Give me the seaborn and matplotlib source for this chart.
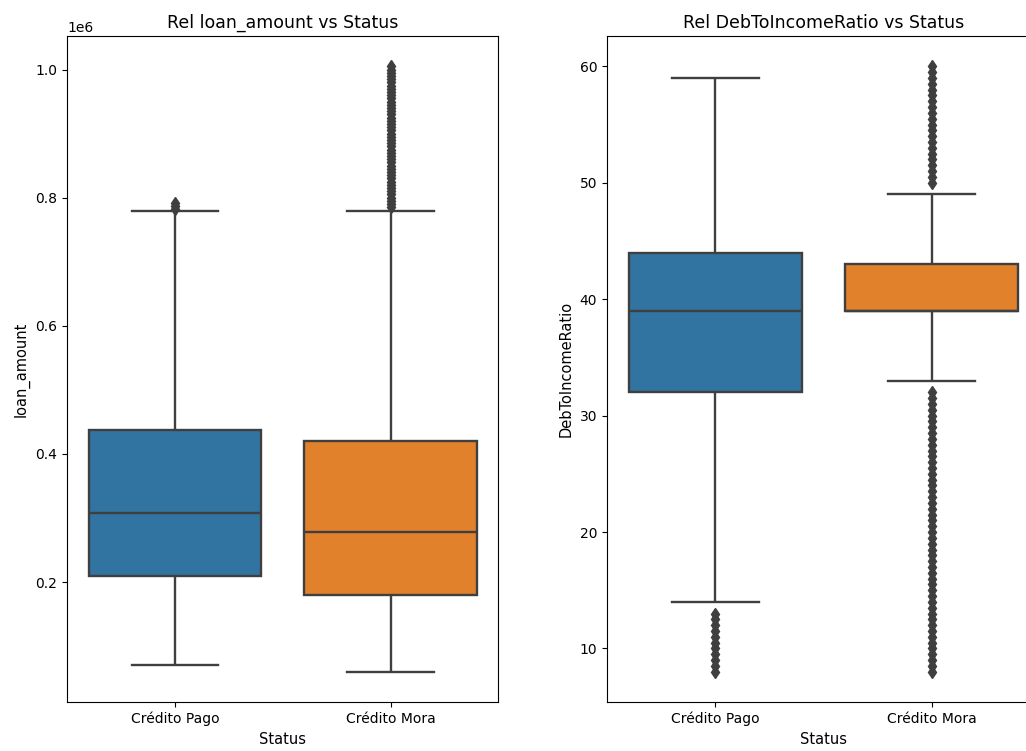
import matplotlib
matplotlib.use("Agg")
import matplotlib.pyplot as plt
import seaborn as sns
import pandas as pd

# -----------------------------------------------------------------------
# Box summaries (whisker low, Q1, median, Q3, whisker high)
# -----------------------------------------------------------------------
STATUS = ["Crédito Pago", "Crédito Mora"]
PALETTE = ["#1f77b4", "#ff7f0e"]

LOAN_PAGO = [70000, 209000, 308000, 438000, 779000]
LOAN_MORA = [60000, 180000, 278000, 420000, 779000]
LOAN_PAGO_FLIERS = [783000, 787000, 791000]
LOAN_MORA_FLIERS = [
    785000, 790000, 795000, 800000, 805000, 810000, 815000, 820000, 825000, 830000,
    835000, 840000, 845000, 850000, 855000, 860000, 865000, 870000, 875000, 880000,
    885000, 890000, 895000, 900000, 905000, 910000, 915000, 920000, 925000, 930000,
    935000, 940000, 945000, 950000, 955000, 960000, 965000, 970000, 975000, 980000,
    985000, 990000, 995000, 1000000, 1005000,
]

DTI_PAGO = [14, 32, 39, 44, 59]
DTI_MORA = [33, 39, 39, 43, 49]
DTI_PAGO_FLIERS = [8, 8.5, 9, 9.5, 10, 10.5, 11, 11.5, 12, 12.5, 13]
DTI_MORA_FLIERS = [
    8, 8.5, 9, 9.5, 10, 10.5, 11, 11.5, 12, 12.5, 13, 13.5, 14, 14.5, 15, 15.5,
    16, 16.5, 17, 17.5, 18, 18.5, 19, 19.5, 20, 20.5, 21, 21.5, 22, 22.5, 23, 23.5,
    24, 24.5, 25, 25.5, 26, 26.5, 27, 27.5, 28, 28.5, 29, 29.5, 30, 30.5, 31, 31.5, 32,
    50, 50.5, 51, 51.5, 52, 52.5, 53, 53.5, 54, 54.5, 55, 55.5, 56, 56.5, 57, 57.5,
    58, 58.5, 59, 59.5, 60,
]

# weight given to the quartiles so seaborn's own quantiles land on them exactly
REPEAT = 100


def build_sample(summary, fliers):
    lo, q1, med, q3, hi = summary
    return [lo] + [q1] * REPEAT + [med] * REPEAT + [q3] * REPEAT + [hi] + list(fliers)


def build_table(column, pago, pago_fliers, mora, mora_fliers):
    rows = []
    for status, summary, fliers in [(STATUS[0], pago, pago_fliers),
                                    (STATUS[1], mora, mora_fliers)]:
        for v in build_sample(summary, fliers):
            rows.append({"Status": status, column: v})
    return pd.DataFrame(rows)


loan_df = build_table("loan_amount", LOAN_PAGO, LOAN_PAGO_FLIERS, LOAN_MORA, LOAN_MORA_FLIERS)
dti_df = build_table("DebToIncomeRatio", DTI_PAGO, DTI_PAGO_FLIERS, DTI_MORA, DTI_MORA_FLIERS)

plt.rcParams["font.family"] = ["DejaVu Sans"]
plt.rcParams["font.size"] = 10

fig = plt.figure(figsize=(10.26, 7.51), dpi=100)
ax1 = fig.add_axes([0.0653, 0.0652, 0.4205, 0.8868])
ax2 = fig.add_axes([0.5916, 0.0652, 0.4220, 0.8868])  # right edge runs off the canvas

flier_style = dict(marker="d", markerfacecolor="#3f3f3f", markeredgecolor="#3f3f3f")

for ax, df, col in [(ax1, loan_df, "loan_amount"), (ax2, dti_df, "DebToIncomeRatio")]:
    sns.boxplot(data=df, x="Status", y=col, hue="Status", order=STATUS,
                hue_order=STATUS, palette=PALETTE, legend=False, ax=ax,
                linewidth=1.7, linecolor="#3f3f3f", fliersize=6,
                flierprops=flier_style)
    ax.set_title(f"Rel {col} vs Status", fontsize=12.5)
    ax.set_xlabel("Status", fontsize=10.5)
    ax.set_ylabel(col, fontsize=10.5)

ax2.set_yticks([10, 20, 30, 40, 50, 60])
# the reference is cropped before the right frame of the second panel
ax2.spines["right"].set_visible(False)

fig.savefig("out.png", dpi=100)
plt.close()
